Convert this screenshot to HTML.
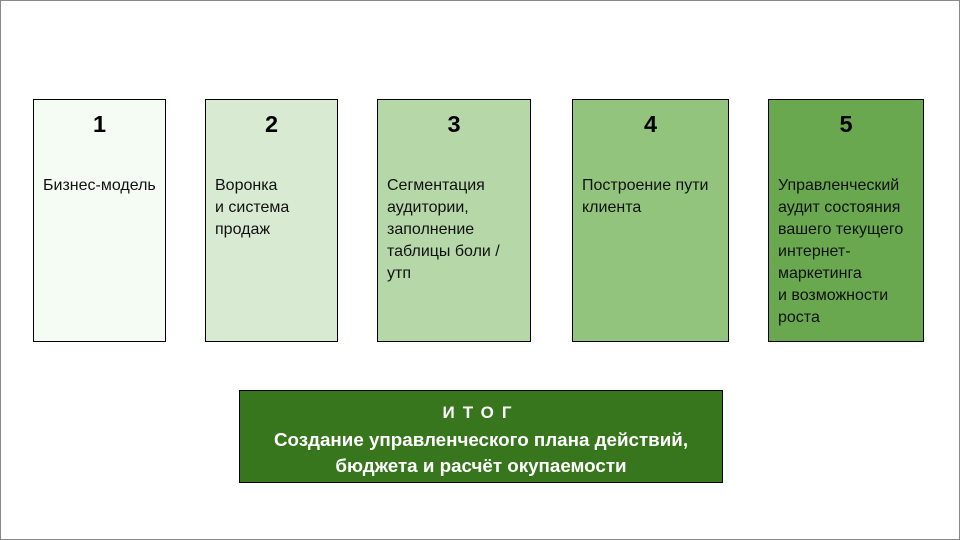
<!DOCTYPE html>
<html><head><meta charset="utf-8"><style>
body{margin:0;width:960px;height:540px;background:#fff;position:relative;overflow:hidden;font-family:"Liberation Sans",sans-serif;}
.frame{position:absolute;left:0;top:0;width:958px;height:538px;border:1px solid #888;}
.b{position:absolute;top:99px;border:1px solid #000;box-sizing:border-box;height:243px;}
.n{position:absolute;top:11px;left:0;right:0;text-align:center;font-weight:bold;font-size:23.5px;}
.t{position:absolute;top:75px;left:9px;font-size:16px;line-height:22px;color:#111;white-space:nowrap;}
.f{position:absolute;left:239px;top:390px;width:484px;height:93px;box-sizing:border-box;border:1px solid #000;background:#38761d;color:#fff;font-weight:bold;font-size:18.8px;text-align:center;line-height:26.5px;padding-top:8px;}
</style></head><body>
<div class="frame"></div>
<div class="b" style="left:33px;width:133px;background:#f5fcf3"><div class="n">1</div><div class="t">Бизнес-модель</div></div>
<div class="b" style="left:205px;width:133px;background:#d9ead3"><div class="n">2</div><div class="t">Воронка<br>и система<br>продаж</div></div>
<div class="b" style="left:377px;width:154px;background:#b6d7a8"><div class="n">3</div><div class="t">Сегментация<br>аудитории,<br>заполнение<br>таблицы боли /<br>утп</div></div>
<div class="b" style="left:572px;width:157px;background:#93c47d"><div class="n">4</div><div class="t">Построение пути<br>клиента</div></div>
<div class="b" style="left:768px;width:156px;background:#6aa84f"><div class="n">5</div><div class="t">Управленческий<br>аудит состояния<br>вашего текущего<br>интернет-<br>маркетинга<br>и возможности<br>роста</div></div>
<div class="f"><span style="letter-spacing:8px;font-size:17px">ИТОГ</span><br>Создание управленческого плана действий,<br>бюджета и расчёт окупаемости</div>
</body></html>
